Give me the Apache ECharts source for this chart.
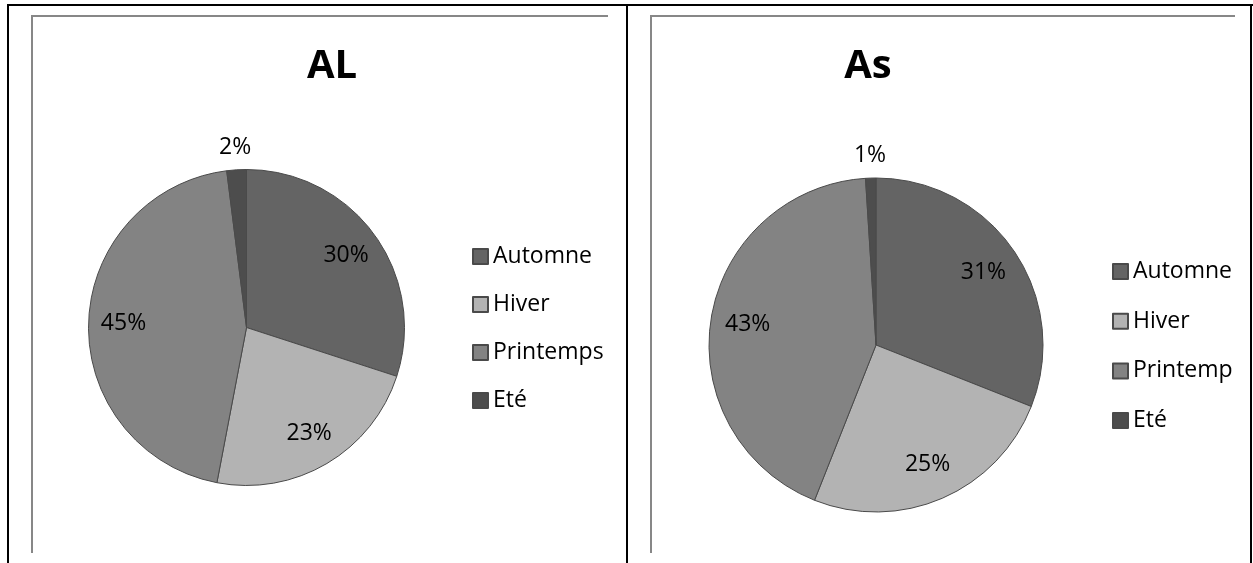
<!DOCTYPE html>
<html><head><meta charset="utf-8">
<script src="https://cdn.jsdelivr.net/npm/echarts@6/dist/echarts.min.js"></script>
<style>html,body{margin:0;padding:0;background:#fff}#c{width:1253px;height:563px}</style>
</head><body><div id="c"></div>
<script>
// ---- data ----
const categories = ['Automne', 'Hiver', 'Printemps', 'Eté'];
const valuesAL = [30, 23, 45, 2];
const valuesAs = [31, 25, 43, 1];
const chartTitles = ['AL', 'As'];

// ---- styles ----
const sliceColors = ['#646464', '#b3b3b3', '#838383', '#4d4d4d'];
const FONT = 'Open Sans';
const SMALL = 5; // slices below this value get their label outside

const panels = [
  { values: valuesAL, title: chartTitles[0], center: [246.5, 327.5], r: 158, titleX: 332, legendX: 472, legendY: 245, legendGap: 25, legendWidth: 160 },
  { values: valuesAs, title: chartTitles[1], center: [876, 345], r: 167, titleX: 868, legendX: 1112, legendY: 260, legendGap: 26.7, legendWidth: 103 }
];

function mkData(values, withColor) {
  return categories.map((name, i) => ({
    name: name,
    value: values[i],
    itemStyle: withColor ? { color: sliceColors[i] } : undefined
  }));
}

const series = [];
const titles = [];
const legends = [];

// main pies first (legend takes colors from them)
panels.forEach((p) => {
  series.push({
    type: 'pie', center: p.center, radius: p.r, startAngle: 90, clockwise: true,
    silent: true, animation: false,
    label: { show: false }, labelLine: { show: false },
    itemStyle: { borderColor: '#4a4a4a', borderWidth: 1 },
    emphasis: { disabled: true },
    data: mkData(p.values, true)
  });
});

// invisible helper pies that place the percentage labels
panels.forEach((p) => {
  const labelStyle = { position: 'inside', formatter: '{c}%', color: '#000', fontSize: 23, fontFamily: FONT };
  // large slices: label at ~0.76 r
  series.push({
    type: 'pie', center: p.center, radius: p.r * 1.52, startAngle: 90, clockwise: true,
    silent: true, animation: false, legendHoverLink: false,
    itemStyle: { color: 'rgba(0,0,0,0)', borderWidth: 0 },
    emphasis: { disabled: true },
    labelLine: { show: false },
    data: categories.map((name, i) => ({
      name: name, value: p.values[i],
      label: Object.assign({ show: p.values[i] >= SMALL }, labelStyle)
    }))
  });
  // small slices: label just outside the pie (~1.12 r)
  series.push({
    type: 'pie', center: p.center, radius: p.r * 2.24, startAngle: 90, clockwise: true,
    silent: true, animation: false, legendHoverLink: false,
    itemStyle: { color: 'rgba(0,0,0,0)', borderWidth: 0 },
    emphasis: { disabled: true },
    labelLine: { show: false },
    data: categories.map((name, i) => ({
      name: name, value: p.values[i],
      label: Object.assign({ show: p.values[i] < SMALL }, labelStyle)
    }))
  });

  titles.push({
    text: p.title, left: p.titleX, top: 47, textAlign: 'center', padding: 0,
    textStyle: { fontSize: 40, fontWeight: 'bold', fontFamily: FONT, color: '#000' }
  });
  legends.push({
    orient: 'vertical', left: p.legendX, top: p.legendY, padding: 0,
    itemWidth: 15, itemHeight: 15, itemGap: p.legendGap, icon: 'rect',
    selectedMode: false,
    data: categories,
    textStyle: { fontSize: 23, fontFamily: FONT, color: '#000',
                 width: p.legendWidth, overflow: 'truncate', ellipsis: '' }
  });
});

const black = { stroke: '#000', lineWidth: 2 };
const gray = { stroke: '#878787', lineWidth: 2, fill: null };
const graphic = [
  { type: 'line', shape: { x1: 7, y1: 5, x2: 1253, y2: 5 }, style: black, silent: true },
  { type: 'line', shape: { x1: 8, y1: 4, x2: 8, y2: 563 }, style: black, silent: true },
  { type: 'line', shape: { x1: 627, y1: 5, x2: 627, y2: 563 }, style: black, silent: true },
  { type: 'line', shape: { x1: 1251, y1: 5, x2: 1251, y2: 563 }, style: black, silent: true },
  { type: 'polyline', shape: { points: [[32, 553], [32, 16], [608, 16]] }, style: gray, silent: true },
  { type: 'polyline', shape: { points: [[651, 553], [651, 16], [1235, 16]] }, style: gray, silent: true }
];

const chart = echarts.init(document.getElementById('c'), null, { renderer: 'canvas' });
chart.setOption({
  backgroundColor: '#fff',
  animation: false,
  title: titles,
  legend: legends,
  series: series,
  graphic: graphic
});
</script>
</body></html>
